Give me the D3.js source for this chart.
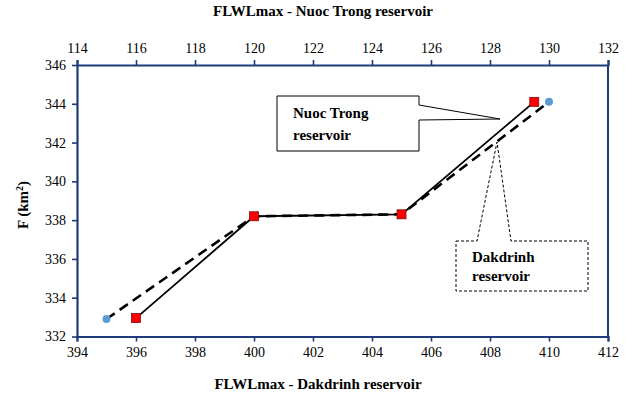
<!DOCTYPE html>
<html><head><meta charset="utf-8">
<script src="https://cdn.jsdelivr.net/npm/d3@7"></script>
<style>body{margin:0;background:#fff}svg{display:block}text{font-family:'Liberation Serif','Times New Roman',Times,Tinos,'DejaVu Serif',serif}</style>
</head><body>
<svg id="c" width="633" height="397"></svg>
<script>
// Data
const nuocTrongX = [116, 120, 125, 129.5];
const nuocTrongF = [332.95, 338.2, 338.3, 344.1];
const dakdrinhX = [395, 400, 405, 410];
const dakdrinhF = [332.9, 338.2, 338.3, 344.1];
const bottomTicks = [394,396,398,400,402,404,406,408,410,412];
const topTicks = [114,116,118,120,122,124,126,128,130,132];
const yTicks = [332,334,336,338,340,342,344,346];

const FONT = "'Liberation Serif','Times New Roman',Times,Tinos,'DejaVu Serif',serif";
const svg = d3.select("#c");
const L = 77, R = 608, T = 65, B = 336.5;
const xB = d3.scaleLinear().domain([394,412]).range([L,R]);
const xT = d3.scaleLinear().domain([114,132]).range([L,R]);
const y = d3.scaleLinear().domain([332,346]).range([B,T]);
const axisCol = "#1f3b78";

svg.append("line").attr("x1",R).attr("x2",R).attr("y1",T).attr("y2",B)
  .attr("stroke",axisCol).attr("stroke-width",2);

function styleAxis(g){
  g.attr("font-family",FONT).attr("font-size",14);
  g.select(".domain").attr("stroke",axisCol).attr("stroke-width",2.2);
  g.selectAll(".tick line").attr("stroke",axisCol).attr("stroke-width",1.6);
  g.selectAll(".tick text").attr("fill","#000").attr("font-family",FONT).attr("font-size",14);
}
svg.append("g").attr("transform",`translate(0,${B})`)
  .call(d3.axisBottom(xB).tickValues(bottomTicks).tickSize(5).tickSizeOuter(5).tickPadding(6))
  .call(styleAxis);
svg.append("g").attr("transform",`translate(0,${T})`)
  .call(d3.axisTop(xT).tickValues(topTicks).tickSize(5).tickSizeOuter(5).tickPadding(7))
  .call(styleAxis);
svg.append("g").attr("transform",`translate(${L},0)`)
  .call(d3.axisLeft(y).tickValues(yTicks).tickSize(5).tickSizeOuter(0).tickPadding(6))
  .call(styleAxis);

const ntData = nuocTrongX.map((v,i)=>[v,nuocTrongF[i]]);
const dkData = dakdrinhX.map((v,i)=>[v,dakdrinhF[i]]);
svg.append("path").datum(dkData)
  .attr("d", d3.line().x(d=>xB(d[0])).y(d=>y(d[1])))
  .attr("fill","none").attr("stroke","#000").attr("stroke-width",2.6).attr("stroke-dasharray","10,6");
svg.append("path").datum(ntData)
  .attr("d", d3.line().x(d=>xT(d[0])).y(d=>y(d[1])))
  .attr("fill","none").attr("stroke","#000").attr("stroke-width",1.8);

svg.selectAll(".dk").data(dkData).enter().append("circle")
  .attr("cx",d=>xB(d[0])).attr("cy",d=>y(d[1])).attr("r",4).attr("fill","#5b9bd5");
svg.selectAll(".nt").data(ntData).enter().append("rect")
  .attr("x",d=>xT(d[0])-4.5).attr("y",d=>y(d[1])-4.5).attr("width",9).attr("height",9)
  .attr("fill","#ff0000").attr("stroke","#7a1010").attr("stroke-width",0.8);

function txt(x,yy,s,size,anchor){
  return svg.append("text").attr("x",x).attr("y",yy).attr("font-family",FONT)
    .attr("font-size",size).attr("font-weight","bold").attr("text-anchor",anchor||"start").text(s);
}
// callout Nuoc Trong
svg.append("path")
  .attr("d","M277,96 L419,96 L419,105 L500,119 L419,120 L419,151 L277,151 Z")
  .attr("fill","#fff").attr("stroke","#000").attr("stroke-width",1);
txt(293,118,"Nuoc Trong",15);
txt(293,140,"reservoir",15);

// callout Dakdrinh
svg.append("path")
  .attr("d","M456,241 L477,241 L497,142 L511,241 L588,241 L588,291 L456,291 Z")
  .attr("fill","#fff").attr("stroke","#000").attr("stroke-width",1).attr("stroke-dasharray","3,2");
txt(472,262,"Dakdrinh",15);
txt(472,281,"reservoir",15);

// axis titles
txt(323,16,"FLWLmax -  Nuoc Trong reservoir",15,"middle");
txt(318,389,"FLWLmax -  Dakdrinh reservoir",15,"middle");
const yt = svg.append("text").attr("transform","translate(28,205) rotate(-90)").attr("text-anchor","middle")
  .attr("font-family",FONT).attr("font-size",15).attr("font-weight","bold");
yt.append("tspan").text("F (km");
yt.append("tspan").attr("dy",-5).attr("font-size",10).text("2");
yt.append("tspan").attr("dy",5).text(")");
</script>
</body></html>
